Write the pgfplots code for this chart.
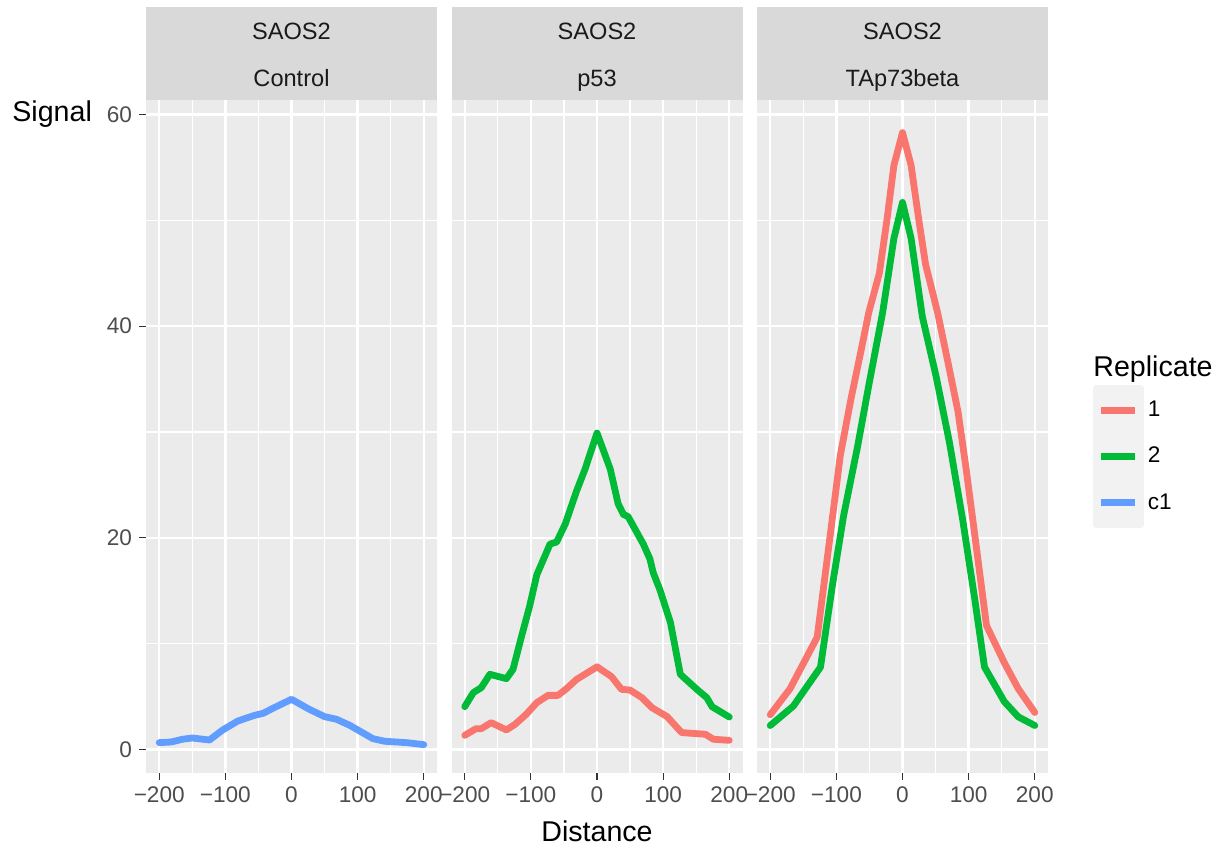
\documentclass[border=0pt]{standalone}
\usepackage{fontspec}
\setmainfont{Liberation Sans}
\usepackage{pgfplots}
\pgfplotsset{compat=1.18}
\definecolor{panelbg}{HTML}{EBEBEB}
\definecolor{stripbg}{HTML}{D9D9D9}
\definecolor{tickcol}{HTML}{333333}
\definecolor{ticklab}{HTML}{4D4D4D}
\definecolor{striptxt}{HTML}{1A1A1A}
\definecolor{legkey}{HTML}{F2F2F2}
\definecolor{cred}{HTML}{F8766D}
\definecolor{cgreen}{HTML}{00BA38}
\definecolor{cblue}{HTML}{619CFF}
\pgfplotsset{panel/.style={
  width=145.5pt, height=336.5pt, scale only axis, anchor=south west,
  xmin=-220, xmax=220, ymin=-2.24, ymax=61.38,
  axis background/.style={fill=panelbg},
  axis line style={draw=none},
  xtick={-200,-100,0,100,200}, xticklabels={−200,−100,0,100,200},
  minor xtick={-150,-50,50,150},
  ytick={0,20,40,60}, yticklabels={0,20,40,60},
  minor ytick={10,30,50},
  grid=both,
  major grid style={white, line width=1.2pt},
  minor grid style={white, line width=0.6pt},
  tick align=outside, major tick length=3.5pt, minor tick length=0pt,
  tick style={color=tickcol, line width=0.6pt},
  xtick pos=lower, ytick pos=left,
  ticklabel style={font=\fontsize{11.3}{13}\selectfont, text=ticklab},
  every axis plot/.append style={line width=3.4pt, line join=round, line cap=round},
}}
\begin{document}
\begin{tikzpicture}
\useasboundingbox (0,0) rectangle (609.5pt,423.5pt);
% panel 1
\begin{axis}[panel, at={(73pt,37pt)}]
\addplot[cblue] coordinates {(-200,0.63) (-182,0.69) (-165,0.95) (-150,1.07) (-124,0.88) (-104,1.83) (-81,2.68) (-56,3.21) (-43,3.4) (-28,3.88) (0,4.73) (27,3.78) (50,3.09) (68,2.84) (88,2.27) (123,1.01) (141,0.76) (174,0.63) (200,0.44)};
\end{axis}
% panel 2
\begin{axis}[panel, at={(225.75pt,37pt)}, yticklabels={}, ytick style={draw=none}]
\addplot[cred] coordinates {(-200,1.32) (-183,1.95) (-175,1.95) (-160,2.52) (-137,1.83) (-124,2.36) (-107,3.31) (-91,4.41) (-74,5.1) (-59,5.1) (-46,5.74) (-31,6.6) (0,7.8) (22,6.87) (37,5.67) (50,5.6) (68,4.88) (83,3.94) (106,3.09) (128,1.58) (164,1.42) (176,0.95) (200,0.85)};
\addplot[cgreen] coordinates {(-200,4.03) (-187,5.36) (-175,5.83) (-162,7.09) (-137,6.68) (-127,7.56) (-114,10.7) (-102,13.5) (-91,16.5) (-71,19.4) (-61,19.6) (-48,21.3) (-31,24.4) (-18,26.5) (0,29.9) (20,26.5) (32,23.2) (40,22.2) (47,22.0) (70,19.4) (80,18.0) (85,16.7) (95,15.1) (111,12.0) (126,7.09) (151,5.67) (166,4.88) (174,4.03) (200,3.05)};
\end{axis}
% panel 3
\begin{axis}[panel, at={(378.5pt,37pt)}, yticklabels={}, ytick style={draw=none},
  legend style={at={(axis description cs:1.1546,0.5766)}, anchor=north west, draw=none, fill=none,
    inner sep=0pt, outer sep=0pt, row sep=-2.3pt, column sep=0pt,
    font=\fontsize{11.3}{13}\selectfont, cells={anchor=west}},
  legend image code/.code={\fill[legkey] (0pt,-11pt) rectangle (22pt,11pt); \draw[#1, line width=3.4pt, line cap=butt] (2.5pt,0pt) -- (19.5pt,0pt);}]
\addplot[cred] coordinates {(-200,3.27) (-170,5.73) (-129,10.6) (-109,20.4) (-94,27.8) (-78,33.1) (-63,37.6) (-51,41.3) (-35,45) (-23,50.3) (-13,55.2) (0,58.3) (13,55.2) (25,49.9) (35,45.8) (53,41.3) (68,36.8) (84,31.9) (96,26.6) (109,20.4) (127,11.7) (154,8.18) (175,5.73) (200,3.48)};
\addlegendentry{1}
\addplot[cgreen] coordinates {(-200,2.25) (-165,4.09) (-124,7.77) (-106,15.5) (-89,22.1) (-68,28.6) (-51,34.4) (-30,41.3) (-13,48.3) (0,51.7) (13,48.3) (30,40.9) (51,35.2) (71,29) (91,21.7) (109,14.3) (124,7.77) (154,4.5) (175,3.07) (200,2.25)};
\addlegendentry{2}
\addlegendimage{cblue}
\addlegendentry{c1}
\end{axis}
% strips
\foreach \xl in {73pt,225.75pt,378.5pt} {
  \fill[stripbg] (\xl,373.5pt) rectangle ++(145.5pt,46.5pt);
}
\node[anchor=base, text=striptxt, font=\fontsize{11.8}{14}\selectfont, inner sep=0pt] at (145.75pt,403.8pt) {SAOS2};
\node[anchor=base, text=striptxt, font=\fontsize{11.8}{14}\selectfont, inner sep=0pt] at (145.75pt,380.3pt) {Control};
\node[anchor=base, text=striptxt, font=\fontsize{11.8}{14}\selectfont, inner sep=0pt] at (298.5pt,403.8pt) {SAOS2};
\node[anchor=base, text=striptxt, font=\fontsize{11.8}{14}\selectfont, inner sep=0pt] at (298.5pt,380.3pt) {p53};
\node[anchor=base, text=striptxt, font=\fontsize{11.8}{14}\selectfont, inner sep=0pt] at (451.25pt,403.8pt) {SAOS2};
\node[anchor=base, text=striptxt, font=\fontsize{11.8}{14}\selectfont, inner sep=0pt] at (451.25pt,380.3pt) {TAp73beta};
% titles
\node[anchor=base west, font=\fontsize{14.3}{17}\selectfont, inner sep=0pt] at (6pt,362.6pt) {Signal};
\node[anchor=base, font=\fontsize{14.3}{17}\selectfont, inner sep=0pt] at (298.5pt,2.65pt) {Distance};
\node[anchor=base west, font=\fontsize{14.3}{17}\selectfont, inner sep=0pt] at (546.5pt,235.5pt) {Replicate};
\end{tikzpicture}
\end{document}
